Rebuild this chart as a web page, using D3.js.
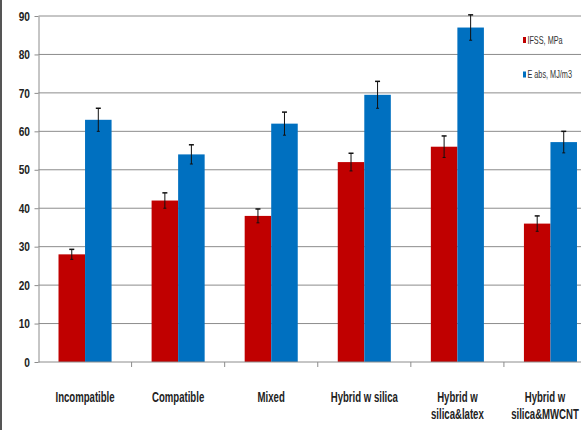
<!DOCTYPE html>
<html>
<head>
<meta charset="utf-8">
<script src="https://cdn.jsdelivr.net/npm/d3@7"></script>
<style>
  body { margin: 0; background: #fff; }
  svg { display: block; }
  .axis text { font-family: "Liberation Sans", Arial, sans-serif; font-weight: bold; fill: #222; }
  .axis path, .axis line { stroke: #8c8c8c; }
  .grid line { stroke: #8c8c8c; stroke-width: 1; }
  .legend text { font-family: "Liberation Sans", Arial, sans-serif; font-size: 10px; fill: #333; }
</style>
</head>
<body>
<svg width="581" height="430"></svg>
<script>
var categories = ["Incompatible", "Compatible", "Mixed", "Hybrid w silica", "Hybrid w silica&latex", "Hybrid w silica&MWCNT"];
var categoryLines = [["Incompatible"], ["Compatible"], ["Mixed"], ["Hybrid w silica"], ["Hybrid w", "silica&latex"], ["Hybrid w", "silica&MWCNT"]];
var seriesNames = ["IFSS, MPa", "E abs, MJ/m3"];
var ifss = [28, 42, 38, 52, 56, 36];
var ifssErr = [1.3, 2, 1.8, 2.3, 2.8, 2];
var eabs = [63, 54, 62, 69.5, 87, 57.2];
var eabsErr = [3, 2.5, 3, 3.5, 3.3, 2.8];
var yTicks = [0, 10, 20, 30, 40, 50, 60, 70, 80, 90];
var colors = ["#c00000", "#0070c0"];

(function() {
  var svg = d3.select("svg"),
      pageWidth = 581,
      margin = {top: 16, left: 38.5},
      width = 558.5,      // plot runs past the right edge, as in the cropped original
      height = 346;

  var x = d3.scaleBand().domain(categories).range([0, width]).paddingInner(0).paddingOuter(0),
      inner = d3.scaleBand().domain([0, 1]).range([x.bandwidth() * 0.215, x.bandwidth() * 0.785]),
      y = d3.scaleLinear().domain([0, 90]).range([height, 0]);

  // dark frame edge on the left
  svg.append("rect").attr("x", 0).attr("y", 0).attr("width", 2).attr("height", 430).attr("fill", "#555");

  var g = svg.append("g").attr("transform", "translate(" + margin.left + "," + margin.top + ")");

  g.append("g")
    .attr("class", "grid")
    .selectAll("line").data(yTicks.slice(1))
    .enter().append("line")
    .attr("x1", 0).attr("x2", width)
    .attr("y1", function(d) { return y(d); })
    .attr("y2", function(d) { return y(d); });

  var yAxis = g.append("g")
    .attr("class", "axis axis--y")
    .call(d3.axisLeft(y).tickValues(yTicks).tickSize(4).tickPadding(7).tickSizeOuter(0));
  yAxis.selectAll("text").attr("font-size", 13).attr("transform", "scale(0.78,1)");

  var series = [
    {name: seriesNames[0], values: ifss, err: ifssErr},
    {name: seriesNames[1], values: eabs, err: eabsErr}
  ];

  var groups = g.selectAll(".series").data(series)
    .enter().append("g")
    .attr("class", "series")
    .attr("fill", function(d, i) { return colors[i]; });

  groups.each(function(s, si) {
    var sel = d3.select(this);
    var rows = s.values.map(function(v, i) { return {cat: categories[i], v: v, e: s.err[i]}; });
    sel.selectAll("rect").data(rows)
      .enter().append("rect")
      .attr("x", function(d) { return x(d.cat) + inner(si); })
      .attr("y", function(d) { return y(d.v); })
      .attr("width", inner.bandwidth())
      .attr("height", function(d) { return height - y(d.v); });

    var eb = sel.selectAll(".err").data(rows)
      .enter().append("g")
      .attr("class", "err")
      .attr("stroke", "#111")
      .attr("stroke-width", 1)
      .attr("transform", function(d) { return "translate(" + (x(d.cat) + inner(si) + inner.bandwidth() / 2) + ",0)"; });
    eb.append("line")
      .attr("y1", function(d) { return y(d.v + d.e); })
      .attr("y2", function(d) { return y(d.v - d.e); });
    eb.append("line")
      .attr("x1", -2.5).attr("x2", 2.5)
      .attr("stroke-width", 1.5)
      .attr("y1", function(d) { return y(d.v + d.e); })
      .attr("y2", function(d) { return y(d.v + d.e); });
    eb.append("line")
      .attr("x1", -1.5).attr("x2", 1.5)
      .attr("y1", function(d) { return y(d.v - d.e); })
      .attr("y2", function(d) { return y(d.v - d.e); });
  });

  // x axis: ticks sit on the band boundaries
  var xAxis = g.append("g")
    .attr("class", "axis axis--x")
    .attr("transform", "translate(0," + height + ")");
  xAxis.append("line").attr("x1", 0).attr("x2", width);
  xAxis.selectAll(".bound").data(categories.slice(1))
    .enter().append("line")
    .attr("class", "bound")
    .attr("x1", function(d) { return x(d); })
    .attr("x2", function(d) { return x(d); })
    .attr("y1", 0).attr("y2", 5);
  xAxis.selectAll(".lab").data(categoryLines)
    .enter().append("text")
    .attr("class", "lab")
    .attr("font-size", 15)
    .attr("text-anchor", "middle")
    .attr("transform", function(d, i) {
      // keep the last label inside the page
      var cx = Math.min(x(categories[i]) + x.bandwidth() / 2, pageWidth - margin.left - 36);
      return "translate(" + cx + ",40) scale(0.64,1)";
    })
    .selectAll("tspan").data(function(d) { return d; })
    .enter().append("tspan")
    .attr("x", 0)
    .attr("dy", function(d, i) { return i ? 17 : 0; })
    .text(function(d) { return d; });

  var legend = svg.append("g").attr("class", "legend");
  var li = legend.selectAll("g").data(seriesNames)
    .enter().append("g")
    .attr("transform", function(d, i) { return "translate(523," + (37 + i * 34.5) + ")"; });
  li.append("rect").attr("width", 3).attr("height", 6).attr("fill", function(d, i) { return colors[i]; });
  li.append("text").attr("y", 6.5).attr("transform", "scale(0.73,1)")
    .attr("x", 6).text(function(d) { return d; });
})();
</script>
</body>
</html>
